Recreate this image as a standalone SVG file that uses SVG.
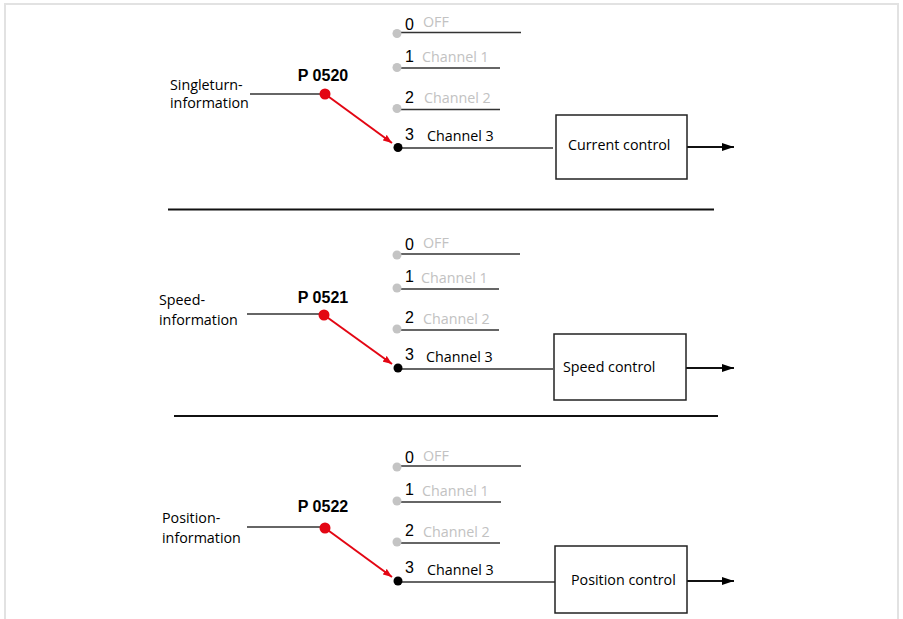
<svg xmlns="http://www.w3.org/2000/svg" width="903" height="619" viewBox="0 0 903 619">
<defs>
<style>
.frame{fill:none;stroke:#e2e2e2;stroke-width:2}
.ln{stroke:#333;stroke-width:1.5;fill:none}
.out{stroke:#111;stroke-width:2;fill:none}
.sep{stroke:#111;stroke-width:2}
.red{stroke:#e30613;stroke-width:2;fill:none}
.box{fill:#fff;stroke:#222;stroke-width:1.5}
.num{font-family:"Liberation Sans",Arial,sans-serif;font-size:16px;fill:#000}
.lbl{font-family:"Open Sans","Noto Sans",sans-serif;font-size:14.3px;fill:#000}
.gry{font-family:"Open Sans","Noto Sans",sans-serif;font-size:14.3px;fill:#c2c2c2}
.par{font-family:"Liberation Sans",Arial,sans-serif;font-size:16px;font-weight:bold;fill:#000;text-anchor:middle}
.gdot{fill:#c4c4c4}
.bdot{fill:#000}
.rdot{fill:#e30613}
</style>
<marker id="ah" markerWidth="12" markerHeight="8" refX="12" refY="4" orient="auto" markerUnits="userSpaceOnUse">
<path d="M0,0 L12,4 L0,8 z" fill="#000"/>
</marker>
<marker id="rh" markerWidth="9" markerHeight="7" refX="9" refY="3.5" orient="auto" markerUnits="userSpaceOnUse">
<path d="M0,0 L9,3.5 L0,7 z" fill="#e30613"/>
</marker>
</defs>
<path class="frame" d="M5,619 V4 H898 V619"/>

<g id="connectors">
<!-- section 1 -->
<line class="ln" x1="250" y1="94" x2="325" y2="94"/>
<line class="ln" x1="400" y1="32.5" x2="521" y2="32.5"/>
<line class="ln" x1="400" y1="68" x2="500" y2="68"/>
<line class="ln" x1="400" y1="109.5" x2="500" y2="109.5"/>
<line class="ln" x1="400" y1="148" x2="553" y2="148"/>
<line class="red" x1="325" y1="94" x2="392" y2="143" marker-end="url(#rh)"/>
<line class="out" x1="687" y1="147" x2="734" y2="147" marker-end="url(#ah)"/>
<!-- section 2 -->
<line class="ln" x1="247" y1="314" x2="324" y2="314"/>
<line class="ln" x1="400" y1="254" x2="520" y2="254"/>
<line class="ln" x1="400" y1="289" x2="499" y2="289"/>
<line class="ln" x1="400" y1="330" x2="499" y2="330"/>
<line class="ln" x1="400" y1="369" x2="553" y2="369"/>
<line class="red" x1="324" y1="315" x2="392" y2="364" marker-end="url(#rh)"/>
<line class="out" x1="686" y1="368" x2="734" y2="368" marker-end="url(#ah)"/>
<!-- section 3 -->
<line class="ln" x1="247" y1="527" x2="325" y2="527"/>
<line class="ln" x1="400" y1="466" x2="521" y2="466"/>
<line class="ln" x1="400" y1="502" x2="501" y2="502"/>
<line class="ln" x1="400" y1="543" x2="500" y2="543"/>
<line class="ln" x1="400" y1="582" x2="555" y2="582"/>
<line class="red" x1="325" y1="528" x2="392" y2="577" marker-end="url(#rh)"/>
<line class="out" x1="687" y1="581" x2="734" y2="581" marker-end="url(#ah)"/>
<!-- separators -->
<line class="sep" x1="168" y1="209.5" x2="714" y2="209.5"/>
<line class="sep" x1="174" y1="416" x2="718" y2="416"/>
</g>

<g id="sec1">
<text class="lbl" x="170" y="90">Singleturn-</text>
<text class="lbl" x="170" y="108">information</text>
<text class="par" x="323" y="81">P 0520</text>
<circle class="rdot" cx="325" cy="94" r="5.5"/>
<circle class="gdot" cx="397" cy="33.5" r="4.5"/>
<circle class="gdot" cx="397" cy="67.5" r="4.5"/>
<circle class="gdot" cx="397" cy="108.5" r="4.5"/>
<circle class="bdot" cx="398" cy="147.5" r="4.5"/>
<text class="num" x="405" y="30">0</text><text class="gry" x="423" y="27">OFF</text>
<text class="num" x="405" y="62">1</text><text class="gry" x="422" y="62">Channel 1</text>
<text class="num" x="405" y="103">2</text><text class="gry" x="424" y="103">Channel 2</text>
<text class="num" x="405" y="140">3</text><text class="lbl" x="427" y="141">Channel 3</text>
</g>
<g id="box1">
<rect class="box" x="556" y="115" width="131" height="64"/>
<text class="lbl" x="568" y="150">Current control</text>
</g>

<g id="sec2">
<text class="lbl" x="159" y="305">Speed-</text>
<text class="lbl" x="159" y="325">information</text>
<text class="par" x="323" y="303">P 0521</text>
<circle class="rdot" cx="324" cy="315" r="5.5"/>
<circle class="gdot" cx="397" cy="255" r="4.5"/>
<circle class="gdot" cx="397" cy="288" r="4.5"/>
<circle class="gdot" cx="397" cy="329" r="4.5"/>
<circle class="bdot" cx="398" cy="368" r="4.5"/>
<text class="num" x="405" y="250">0</text><text class="gry" x="423" y="248">OFF</text>
<text class="num" x="405" y="282">1</text><text class="gry" x="421" y="283">Channel 1</text>
<text class="num" x="405" y="323">2</text><text class="gry" x="423" y="324">Channel 2</text>
<text class="num" x="405" y="360">3</text><text class="lbl" x="426" y="362">Channel 3</text>
</g>
<g id="box2">
<rect class="box" x="554" y="334" width="132" height="66"/>
<text class="lbl" x="563" y="372">Speed control</text>
</g>

<g id="sec3">
<text class="lbl" x="162" y="523">Position-</text>
<text class="lbl" x="162" y="543">information</text>
<text class="par" x="323" y="512">P 0522</text>
<circle class="rdot" cx="325" cy="528" r="5.5"/>
<circle class="gdot" cx="397" cy="467" r="4.5"/>
<circle class="gdot" cx="397" cy="501" r="4.5"/>
<circle class="gdot" cx="397" cy="542" r="4.5"/>
<circle class="bdot" cx="398" cy="581" r="4.5"/>
<text class="num" x="405" y="463">0</text><text class="gry" x="423" y="461">OFF</text>
<text class="num" x="405" y="495">1</text><text class="gry" x="422" y="496">Channel 1</text>
<text class="num" x="405" y="536">2</text><text class="gry" x="423" y="537">Channel 2</text>
<text class="num" x="405" y="573">3</text><text class="lbl" x="427" y="575">Channel 3</text>
</g>
<g id="box3">
<rect class="box" x="555" y="546" width="132" height="67"/>
<text class="lbl" x="571" y="585">Position control</text>
</g>
</svg>
